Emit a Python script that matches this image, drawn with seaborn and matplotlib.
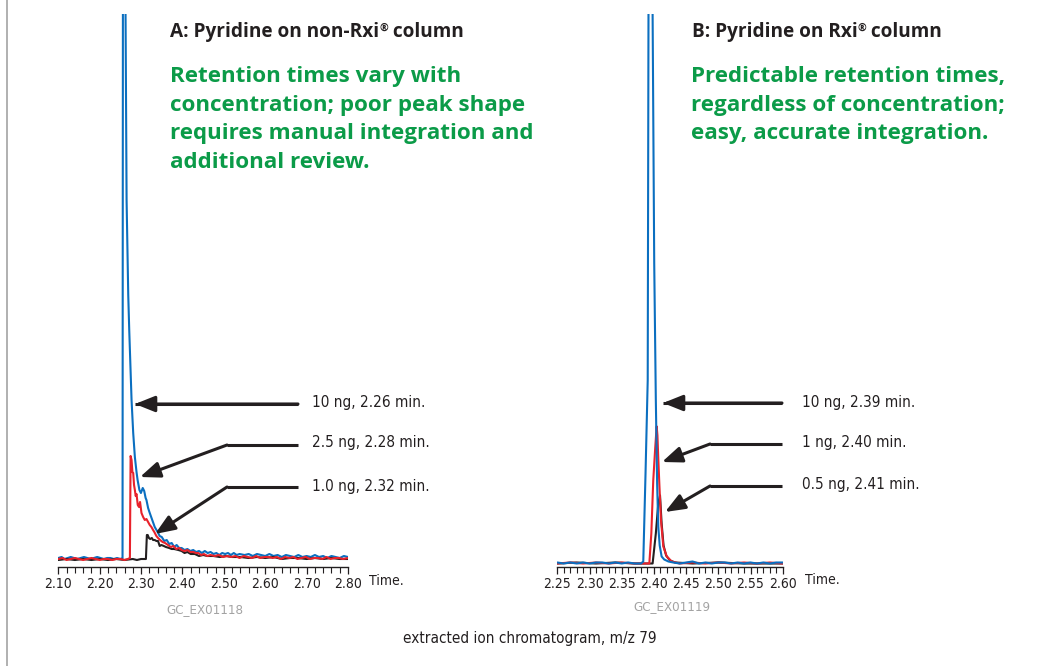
import matplotlib
matplotlib.use("Agg")
import matplotlib.pyplot as plt
from matplotlib import font_manager
from matplotlib.lines import Line2D
from matplotlib.patches import FancyArrowPatch
from matplotlib.ticker import MultipleLocator
import pandas as pd
import seaborn as sns

# ---- data (time in min, abundance in arbitrary units) ----
# Panel A: non-Rxi column
a_blue_t = [2.100, 2.108, 2.115, 2.123, 2.130, 2.138, 2.146, 2.154, 2.162, 2.170, 2.178, 2.186,
            2.194, 2.202, 2.210, 2.218, 2.226, 2.234, 2.242, 2.250, 2.2552, 2.2585, 2.2625, 2.2650,
            2.2690, 2.2714, 2.2730, 2.2770, 2.2810, 2.2850, 2.2890, 2.2916, 2.2960, 2.2996, 2.3040,
            2.3076, 2.3110, 2.3130, 2.3170, 2.3210, 2.3270, 2.3330, 2.3400, 2.3450, 2.3500, 2.3560,
            2.3620, 2.3680, 2.3740, 2.3800, 2.3860, 2.3920, 2.3980, 2.4050, 2.4120, 2.4190, 2.4260,
            2.4330, 2.4400, 2.4470, 2.4540, 2.4610, 2.4680, 2.4750, 2.4820, 2.4890, 2.4960, 2.5030,
            2.5100, 2.5170, 2.5240, 2.5310, 2.5380, 2.5500, 2.5600, 2.5700, 2.5800, 2.5900, 2.6000,
            2.6100, 2.6200, 2.6300, 2.6400, 2.6500, 2.6600, 2.6700, 2.6800, 2.6900, 2.7000, 2.7100,
            2.7200, 2.7300, 2.7400, 2.7500, 2.7600, 2.7700, 2.7800, 2.7900, 2.8000]
a_blue_y = [2, 3, 1, 2, 3, 2, 1, 2, 3, 2, 1, 2,
            3, 2, 1, 2, 2, 1, 2, 1, 2, 2000, 546, 360,
            265, 230, 210, 160, 127, 103, 88, 80, 70, 67, 72,
            69, 62, 60, 52, 47, 40, 33, 28, 24, 23, 19,
            20, 16, 17, 13, 15, 12, 12, 10, 11, 9, 10,
            8, 9, 7, 9, 7, 8, 6, 7, 5, 7, 6,
            7, 5, 7, 5, 6, 5, 6, 4, 6, 5, 4,
            6, 4, 5, 3, 5, 4, 3, 5, 3, 4, 3,
            5, 3, 4, 2, 4, 3, 2, 4, 3]

a_red_t = [2.100, 2.110, 2.120, 2.130, 2.140, 2.150, 2.160, 2.170, 2.180, 2.190, 2.200, 2.210,
           2.220, 2.230, 2.240, 2.250, 2.260, 2.268, 2.2730, 2.2747, 2.2770, 2.2790, 2.2810, 2.2830,
           2.2850, 2.2870, 2.2890, 2.2920, 2.2950, 2.2975, 2.3010, 2.3050, 2.3090, 2.3130, 2.3170,
           2.3210, 2.3250, 2.3290, 2.3320, 2.3370, 2.3410, 2.3460, 2.3520, 2.3580, 2.3650, 2.3720,
           2.3780, 2.3850, 2.3920, 2.3980, 2.4050, 2.4120, 2.4190, 2.4260, 2.4330, 2.4380, 2.4450,
           2.4520, 2.4600, 2.4680, 2.4780, 2.4880, 2.4980, 2.5080, 2.5180, 2.5280, 2.5380, 2.5480,
           2.5580, 2.5680, 2.5780, 2.5880, 2.5980, 2.6080, 2.6180, 2.6280, 2.6380, 2.6480, 2.6580,
           2.6680, 2.6780, 2.6880, 2.6980, 2.7080, 2.7180, 2.7280, 2.7380, 2.7480, 2.7580, 2.7680,
           2.7780, 2.7880, 2.8000]
a_red_y = [1, 2, 0, 1, 2, 1, 0, 1, 2, 1, 0, 1,
           1, 0, 1, 1, 0, 1, 2, 104, 100, 88, 87, 75,
           70, 64, 66, 55, 53, 58, 47, 43, 40, 41, 38,
           35, 33, 30, 28, 24, 22, 20, 18, 17, 15, 13,
           14, 11, 12, 10, 9, 10, 8, 8, 7, 7, 5,
           6, 4, 5, 4, 5, 3, 4, 3, 4, 2, 4,
           3, 2, 4, 2, 3, 3, 2, 3, 1, 3, 2,
           3, 1, 2, 3, 1, 2, 2, 1, 3, 1, 2,
           2, 1, 2]

a_black_t = [2.100, 2.120, 2.140, 2.160, 2.180, 2.200, 2.220, 2.240, 2.260, 2.280, 2.290, 2.300,
             2.3117, 2.3140, 2.3160, 2.3190, 2.3220, 2.3260, 2.3290, 2.3330, 2.3370, 2.3410, 2.3450,
             2.3490, 2.3550, 2.3600, 2.3680, 2.3740, 2.3800, 2.3900, 2.3980, 2.4050, 2.4120, 2.4200,
             2.4300, 2.4400, 2.4500, 2.4600, 2.4750, 2.4900, 2.5050, 2.5200, 2.5400, 2.5600, 2.5800,
             2.6000, 2.6200, 2.6400, 2.6600, 2.6800, 2.7000, 2.7200, 2.7400, 2.7600, 2.7800, 2.8000]
a_black_y = [0, 1, 0, 1, 0, 1, 0, 1, 0, 1, 0, 1,
             1, 25, 25, 22, 21, 22, 20, 20, 19, 19, 14,
             15, 14, 13, 12, 11, 11, 10, 9, 7, 8, 6,
             6, 4, 5, 4, 4, 3, 4, 3, 3, 2, 3,
             2, 3, 1, 2, 2, 1, 2, 1, 2, 1, 1]

# Panel B: Rxi column
b_blue_t = [2.250, 2.260, 2.270, 2.280, 2.290, 2.300, 2.310, 2.320, 2.330, 2.340, 2.350, 2.360,
            2.370, 2.380, 2.3835, 2.3870, 2.3904, 2.3916, 2.3950, 2.3980, 2.4005, 2.4030, 2.4050,
            2.4068, 2.4090, 2.4120, 2.4160, 2.4225, 2.4300, 2.4400, 2.4500, 2.4600, 2.4700, 2.4800,
            2.4900, 2.5000, 2.5100, 2.5200, 2.5300, 2.5400, 2.5500, 2.5600, 2.5700, 2.5800, 2.5900,
            2.6000]
b_blue_y = [1, 0, 1, 0, 1, 0, 1, 1, 0, 1, 0, 1,
            0, 0, 2, 90, 183, 549, 1500, 549, 300, 163, 80,
            37, 18, 7, 4, 2, 1, 0, 1, 2, 0, 1,
            0, 1, 1, 0, 1, 0, 1, 0, 1, 0, 1,
            1]

b_red_t = [2.250, 2.270, 2.290, 2.310, 2.330, 2.350, 2.370, 2.390, 2.3929, 2.3960, 2.3990, 2.4020,
           2.4043, 2.4055, 2.4068, 2.4084, 2.4110, 2.4146, 2.4200, 2.4277, 2.4400, 2.4600, 2.4800,
           2.5000, 2.5200, 2.5400, 2.5600, 2.5800, 2.6000]
b_red_y = [0, 1, 0, 1, 0, 1, 0, 0, 0, 30, 83, 115,
           137, 128, 105, 80, 43, 17, 7, 2, 0, 1, 0,
           1, 0, 1, 0, 1, 0]

b_black_t = [2.250, 2.280, 2.310, 2.340, 2.370, 2.3980, 2.4030, 2.4068, 2.4095, 2.4120, 2.4150,
             2.4190, 2.4250, 2.4330, 2.4600, 2.5000, 2.5400, 2.6000]
b_black_y = [0, 1, 0, 1, 0, 0, 30, 60, 68, 40, 18,
             8, 3, 1, 0, 1, 0, 0]

a_labels = ["10 ng, 2.26 min.", "2.5 ng, 2.28 min.", "1.0 ng, 2.32 min."]
b_labels = ["10 ng, 2.39 min.", "1 ng, 2.40 min.", "0.5 ng, 2.41 min."]
a_title = ["A: Pyridine on non-Rxi", "®", " column"]
b_title = ["B: Pyridine on Rxi", "®", " column"]
a_note = ["Retention times vary with", "concentration; poor peak shape",
          "requires manual integration and", "additional review."]
b_note = ["Predictable retention times,", "regardless of concentration;",
          "easy, accurate integration."]

BLUE = "#0b6fc0"
RED = "#e8222b"
BLACK = "#231f20"
GREEN = "#0b9b48"
BOLD = ["Open Sans", "DejaVu Sans"]

sns.set_theme(style="white")

# pick a narrow face for the small labels if one is installed
fonts = font_manager.fontManager.ttflist
if any(f.name == "Liberation Sans Narrow" for f in fonts):
    NARROW = dict(family=["Liberation Sans Narrow", "DejaVu Sans"], stretch="normal")
elif any(f.name == "DejaVu Sans" and f.stretch == "condensed" for f in fonts):
    NARROW = dict(family=["DejaVu Sans"], stretch="condensed")
else:
    NARROW = dict(family=["Liberation Sans", "DejaVu Sans"], stretch="normal")
plt.rcParams["font.family"] = NARROW["family"]
plt.rcParams["font.stretch"] = NARROW["stretch"]

W, H = 1037, 666
fig = plt.figure(figsize=(W / 100, H / 100), dpi=100)


def fx(px):
    return px / W


def fy(py):
    return 1 - py / H


def trace(ax, t, y, color):
    df = pd.DataFrame({"time": t, "abundance": y})
    sns.lineplot(data=df, x="time", y="abundance", ax=ax, color=color, lw=1.5,
                 sort=False, estimator=None)


def style_axis(ax, lo, hi, major, minor, ybot, ytop):
    ax.set_xlim(lo, hi)
    ax.set_ylim(ybot, ytop)
    for s in ["left", "right", "top"]:
        ax.spines[s].set_visible(False)
    ax.spines["bottom"].set_color(BLACK)
    ax.spines["bottom"].set_linewidth(1.0)
    ax.xaxis.set_major_locator(MultipleLocator(major))
    ax.xaxis.set_minor_locator(MultipleLocator(minor))
    ax.xaxis.set_major_formatter(lambda v, p: f"{v:.2f}")
    ax.tick_params(axis="x", which="major", bottom=True, length=5, width=0.9, color=BLACK,
                   labelsize=10, labelcolor=BLACK, pad=2)
    ax.tick_params(axis="x", which="minor", bottom=True, length=4, width=0.8, color=BLACK)
    ax.set_yticks([])
    ax.set_xlabel("")
    ax.set_ylabel("")
    ax.set_facecolor("none")
    ax.grid(False)


axA = fig.add_axes([fx(58.3), fy(567), fx(348) - fx(58.3), fy(14) - fy(567)])
trace(axA, a_blue_t, a_blue_y, BLUE)
trace(axA, a_black_t, a_black_y, BLACK)
trace(axA, a_red_t, a_red_y, RED)
style_axis(axA, 2.10, 2.80, 0.10, 0.02, -7, 546)

axB = fig.add_axes([fx(557.3), fy(567), fx(782.7) - fx(557.3), fy(14) - fy(567)])
trace(axB, b_black_t, b_black_y, BLACK)
trace(axB, b_red_t, b_red_y, RED)
trace(axB, b_blue_t, b_blue_y, BLUE)
style_axis(axB, 2.25, 2.60, 0.05, 0.01, -3.5, 549)


def add_arrow(x0, y0, tip, bend=None):
    # horizontal leader from the label, optional bend, then arrowhead to the peak
    end = bend if bend else tip
    fig.add_artist(Line2D([fx(x0), fx(end[0])], [fy(y0), fy(y0)], transform=fig.transFigure,
                          color=BLACK, lw=2.2, solid_capstyle="butt"))
    start = (bend[0], y0) if bend else (x0, y0)
    fig.add_artist(FancyArrowPatch(
        (fx(start[0]), fy(start[1])), (fx(tip[0]), fy(tip[1])),
        transform=fig.transFigure, arrowstyle="-|>,head_length=1.0,head_width=0.4",
        mutation_scale=12, color=BLACK, lw=2.2, shrinkA=0, shrinkB=0))


# panel A annotations
add_arrow(298, 404, (135, 404))
add_arrow(298, 445, (140, 477), bend=(227, 445))
add_arrow(298, 487, (155, 534), bend=(227, 487))
for lab, y in zip(a_labels, [403, 443, 487]):
    fig.text(fx(312), fy(y), lab, fontsize=11, color=BLACK, va="center", ha="left")

# panel B annotations
add_arrow(782, 403, (663, 403))
add_arrow(782, 444, (662, 462), bend=(710, 444))
add_arrow(782, 486, (665, 512), bend=(710, 486))
for lab, y in zip(b_labels, [403, 443, 484]):
    fig.text(fx(802), fy(y), lab, fontsize=11, color=BLACK, va="center", ha="left")

renderer = fig.canvas.get_renderer()


def title_with_mark(x, y, parts, size):
    # regular text, small raised registered mark, regular text
    px = x
    for i, part in enumerate(parts):
        small = i == 1
        t = fig.text(fx(px), fy(y - (6 if small else 0)), part,
                     fontsize=size * (0.55 if small else 1.0), fontweight="bold",
                     color=BLACK, family=BOLD, stretch="normal", va="baseline")
        bb = t.get_window_extent(renderer)
        px = bb.x1


title_with_mark(170, 37, a_title, 13.7)
title_with_mark(692, 37, b_title, 13.7)
for i, line in enumerate(a_note):
    fig.text(fx(170), fy(81.7 + 28.9 * i), line, fontsize=16.1, fontweight="bold",
             color=GREEN, family=BOLD, stretch="normal", va="baseline")
for i, line in enumerate(b_note):
    fig.text(fx(691), fy(81.7 + 28.9 * i), line, fontsize=16.1, fontweight="bold",
             color=GREEN, family=BOLD, stretch="normal", va="baseline")

# axis unit labels and footers
fig.text(fx(369), fy(581), "Time.", fontsize=10, color=BLACK, va="center", ha="left")
fig.text(fx(805), fy(580), "Time.", fontsize=10, color=BLACK, va="center", ha="left")
fig.text(fx(205), fy(610), "GC_EX01118", fontsize=9.5, color="#a3a3a3", va="center", ha="center")
fig.text(fx(672), fy(607), "GC_EX01119", fontsize=9.5, color="#a3a3a3", va="center", ha="center")
fig.text(fx(530), fy(639), "extracted ion chromatogram, m/z 79", fontsize=11, color=BLACK,
         va="center", ha="center")

# thin grey frame line on the left edge
fig.add_artist(Line2D([fx(6.5), fx(6.5)], [0, 1], transform=fig.transFigure,
                      color="#b0b0b0", lw=1.4))

fig.savefig("out.png", dpi=100)
